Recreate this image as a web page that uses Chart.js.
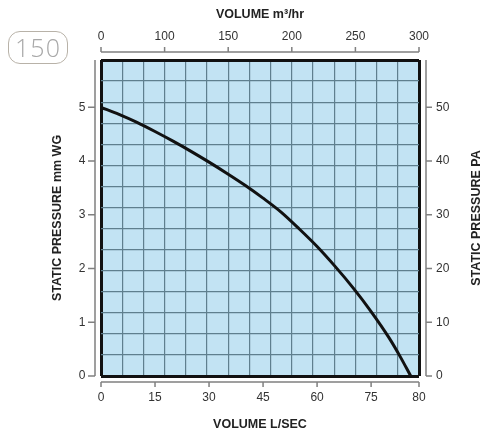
<!DOCTYPE html>
<html>
<head>
<meta charset="utf-8">
<script src="https://cdn.jsdelivr.net/npm/chart.js@4.4.1/dist/chart.umd.min.js"></script>
<style>
  body { margin: 0; background: #fff; }
  #wrap { position: relative; width: 502px; height: 430px; }
  #page {
    position: absolute; left: 8px; top: 31px; width: 58px; height: 31px;
    border: 1px solid #b8b2a8; border-radius: 12px;
    font: 300 25px 'Open Sans', sans-serif; color: #a8a8a8;
    text-align: center; line-height: 31px; letter-spacing: 1px;
  }
</style>
</head>
<body>
<div id="wrap">
  <canvas id="fanChart"></canvas>
  <div id="page">150</div>
</div>
<script>
// fan curve, volume in L/sec against static pressure in mm WG
const flow     = [0, 5, 10, 15, 20, 25, 30, 35, 40, 45, 50, 55, 60, 65, 70, 75, 80, 83, 86];
const pressure = [5.0, 4.87, 4.72, 4.55, 4.37, 4.18, 3.98, 3.77, 3.55, 3.31, 3.05, 2.74, 2.41, 2.04, 1.64, 1.20, 0.71, 0.37, 0.0];

// axis ticks as printed on the sheet
const litreTicks  = [0, 15, 30, 45, 60, 75, 88.3];
const litreLabels = ["0", "15", "30", "45", "60", "75", "80"];
const cubicTicks  = [0, 1, 2, 3, 4, 5];
const cubicLabels = ["0", "100", "150", "200", "250", "300"];
const mmTicks     = [0, 1, 2, 3, 4, 5];
const paTicks     = [0, 10, 20, 30, 40, 50];
const gridSteps   = 15;

const tickFont  = { family: "'Liberation Sans', Arial, sans-serif", size: 12 };
const titleFont = { family: "'Liberation Sans', Arial, sans-serif", size: 12.5, weight: "bold", lineHeight: 0.9 };

function fixedTicks(values) {
    return function (scale) {
        scale.ticks = values.map(v => ({ value: v }));
    };
}
function boxWidth(w) { return function (scale) { scale.width = w; }; }
function boxHeight(h) { return function (scale) { scale.height = h; }; }

// blue paper behind the plot, offset axis lines, right-hand title
const plotFrame = {
    id: "plotFrame",
    beforeDraw(chart) {
        const { ctx, chartArea: a } = chart;
        ctx.save();
        ctx.fillStyle = "#c2e3f3";
        ctx.fillRect(a.left, a.top, a.width, a.height);
        ctx.restore();
    },
    afterDraw(chart) {
        const { ctx, chartArea: a, scales } = chart;
        const gap = 6, len = 5;
        ctx.save();
        ctx.strokeStyle = "#808080";
        ctx.lineWidth = 1.5;
        ctx.beginPath();
        // bottom
        let y0 = a.bottom + gap;
        ctx.moveTo(a.left, y0); ctx.lineTo(a.right, y0);
        scales.x.ticks.forEach(t => {
            const px = scales.x.getPixelForValue(t.value);
            ctx.moveTo(px, y0); ctx.lineTo(px, y0 + len);
        });
        // top
        y0 = a.top - gap - 2;
        ctx.moveTo(a.left, y0); ctx.lineTo(a.right, y0);
        scales.x2.ticks.forEach(t => {
            const px = scales.x2.getPixelForValue(t.value);
            ctx.moveTo(px, y0); ctx.lineTo(px, y0 - len);
        });
        // left
        let x0 = a.left - gap;
        ctx.moveTo(x0, a.top); ctx.lineTo(x0, a.bottom);
        scales.y.ticks.forEach(t => {
            const py = scales.y.getPixelForValue(t.value);
            ctx.moveTo(x0, py); ctx.lineTo(x0 - len - 2, py);
        });
        // right
        x0 = a.right + gap + 1;
        ctx.moveTo(x0, a.top); ctx.lineTo(x0, a.bottom);
        scales.y2.ticks.forEach(t => {
            const py = scales.y2.getPixelForValue(t.value);
            ctx.moveTo(x0, py); ctx.lineTo(x0 + len + 1, py);
        });
        ctx.stroke();

        ctx.translate(477, (a.top + a.bottom) / 2);
        ctx.rotate(-Math.PI / 2);
        ctx.fillStyle = "#222";
        ctx.font = "bold 12.5px 'Liberation Sans', Arial, sans-serif";
        ctx.textAlign = "center";
        ctx.textBaseline = "middle";
        ctx.fillText("STATIC PRESSURE PA", 0, 0);
        ctx.restore();
    }
};

const gridLine = {
    display: true,
    drawTicks: false,
    color: c => (c.index === 0 || c.index === gridSteps) ? "#111" : "#5f7f8e",
    lineWidth: c => (c.index === 0 || c.index === gridSteps) ? 3 : 1.2
};
const noGrid = { display: false, drawTicks: false };

let ctx = document.getElementById("fanChart").getContext("2d");
new Chart(ctx, {
    type: "scatter",
    data: {
        datasets: [{
            label: "Static pressure",
            data: flow.map((v, i) => ({ x: v, y: pressure[i] })),
            showLine: true,
            borderColor: "#111",
            borderWidth: 3,
            pointRadius: 0,
            cubicInterpolationMode: "monotone",
            xAxisID: "x",
            yAxisID: "y"
        }]
    },
    options: {
        responsive: true,
        maintainAspectRatio: false,
        animation: false,
        layout: { padding: 0 },
        plugins: { legend: { display: false }, tooltip: { enabled: false } },
        scales: {
            x: {
                type: "linear", position: "bottom", min: 0, max: 88.3,
                afterBuildTicks: fixedTicks(litreTicks),
                afterFit: boxHeight(54),
                ticks: { font: tickFont, color: "#333", padding: 14.8, maxRotation: 0,
                         callback: (v, i) => litreLabels[i] },
                grid: noGrid, border: { display: false },
                title: { display: true, text: "VOLUME L/SEC", font: titleFont, color: "#222",
                         padding: { top: 0, bottom: 0 } }
            },
            x2: {
                type: "linear", position: "top", min: 0, max: 5,
                afterBuildTicks: fixedTicks(cubicTicks),
                afterFit: boxHeight(60),
                ticks: { font: tickFont, color: "#333", padding: 15.8, maxRotation: 0,
                         callback: (v, i) => cubicLabels[i] },
                grid: noGrid, border: { display: false },
                title: { display: true, text: "VOLUME m³/hr", font: titleFont, color: "#222",
                         padding: { top: 9.4, bottom: 0 } }
            },
            y: {
                type: "linear", position: "left", min: 0, max: 5.88,
                afterBuildTicks: fixedTicks(mmTicks),
                afterFit: boxWidth(101),
                ticks: { font: tickFont, color: "#333", padding: 15.5 },
                grid: noGrid, border: { display: false },
                title: { display: true, text: "STATIC PRESSURE mm WG", font: titleFont, color: "#222",
                         padding: { top: 51.9, bottom: 0 } }
            },
            y2: {
                type: "linear", position: "right", min: 0, max: 58.8,
                afterBuildTicks: fixedTicks(paTicks),
                afterFit: boxWidth(83),
                ticks: { font: tickFont, color: "#333", padding: 17 },
                grid: noGrid, border: { display: false }
            },
            gx: {
                type: "linear", position: "bottom", min: 0, max: gridSteps,
                ticks: { display: false, stepSize: 1 },
                grid: gridLine, border: { display: false }
            },
            gy: {
                type: "linear", position: "left", min: 0, max: gridSteps,
                ticks: { display: false, stepSize: 1 },
                grid: gridLine, border: { display: false }
            }
        }
    },
    plugins: [plotFrame]
});
</script>
</body>
</html>
